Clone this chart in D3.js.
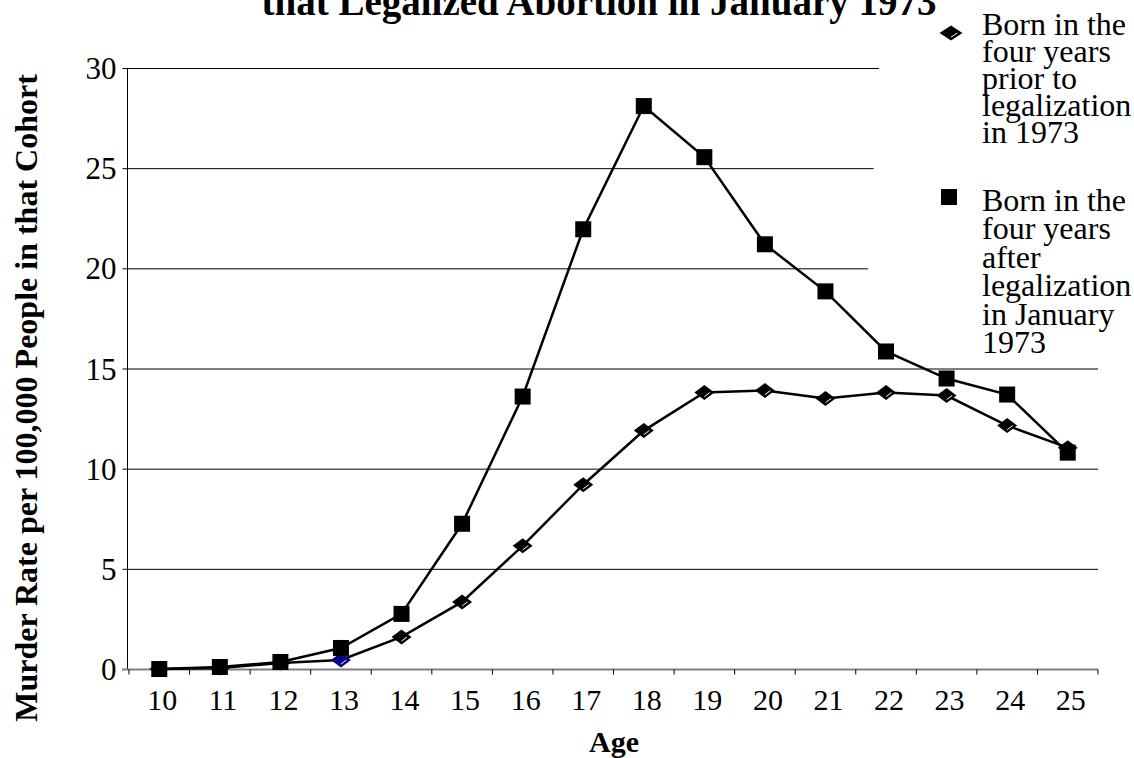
<!DOCTYPE html>
<html>
<head>
<meta charset="utf-8">
<script src="https://cdn.jsdelivr.net/npm/d3@7"></script>
<style>
  body { margin: 0; background: #fff; }
  svg { display: block; font-family: "Liberation Serif", "Times New Roman", serif; }
</style>
</head>
<body>
<svg id="chart" width="1134" height="758"></svg>
<script>
const ages = [10, 11, 12, 13, 14, 15, 16, 17, 18, 19, 20, 21, 22, 23, 24, 25];
const bornBefore = [0, 0.05, 0.3, 0.45, 1.6, 3.35, 6.15, 9.2, 11.9, 13.8, 13.9, 13.5, 13.8, 13.65, 12.15, 11.05];
const bornAfter = [0, 0.1, 0.35, 1.05, 2.75, 7.25, 13.6, 21.95, 28.1, 25.55, 21.2, 18.85, 15.85, 14.5, 13.7, 10.8];
const yTicks = [0, 5, 10, 15, 20, 25, 30];
const titleText = "that Legalized Abortion in January 1973";
const yLabel = "Murder Rate per 100,000 People in that Cohort";
const xLabel = "Age";
const legendBefore = ["Born in the", "four years", "prior to", "legalization", "in 1973"];
const legendAfter = ["Born in the", "four years", "after", "legalization", "in January", "1973"];

const svg = d3.select("#chart");
const x = d3.scaleBand().domain(ages).range([129, 1098]);
const y = d3.scaleLinear().domain([0, 30]).range([669, 68]);
const cx = a => x(a) + x.bandwidth() / 2;

// gridlines
svg.append("g").selectAll("line").data(yTicks.filter(t => t > 0)).join("line")
  .attr("x1", 127).attr("x2", 1098)
  .attr("y1", d => y(d) + 0.5).attr("y2", d => y(d) + 0.5)
  .attr("stroke", "#000").attr("stroke-width", 1);

// legend background (covers the top-right of the gridlines)
svg.append("path")
  .attr("d", "M880,0 L1134,0 L1134,362 L863,362 L879.5,60 Z")
  .attr("fill", "#fff");

// y axis
const yAxis = svg.append("g").attr("transform", "translate(127.5,0)")
  .call(d3.axisLeft(y).tickValues(yTicks).tickSize(5).tickPadding(6).tickFormat(d3.format("d")));
yAxis.select(".domain").attr("stroke", "#000").attr("d", `M0,${y(30)}V${y(0)}`);
yAxis.selectAll(".tick line").attr("stroke", "#000");
yAxis.selectAll("text").attr("font-size", 31).attr("font-family", "Liberation Serif").attr("fill", "#000").attr("dy", "0.34em");

// x axis
const xAxis = svg.append("g").attr("transform", `translate(0,${y(0) + 0.5})`)
  .call(d3.axisBottom(x).tickSize(0).tickPadding(19));
xAxis.select(".domain").remove();
xAxis.append("line").attr("x1", 122).attr("x2", 1098).attr("y1", 0).attr("y2", 0)
  .attr("stroke", "#808080").attr("stroke-width", 2);
xAxis.selectAll(".tick text").attr("font-size", 30).attr("font-family", "Liberation Serif")
  .attr("fill", "#000").attr("dx", 3);
const bounds = ages.map(a => x(a)).concat([x(ages[ages.length - 1]) + x.bandwidth()]);
xAxis.selectAll(".bt").data(bounds).join("line").attr("class", "bt")
  .attr("x1", d => d).attr("x2", d => d).attr("y1", 0).attr("y2", 5)
  .attr("stroke", "#000").attr("stroke-width", 1);

// lines
const line = d3.line().x(d => cx(d.a)).y(d => y(d.v));
const dBefore = ages.map((a, i) => ({ a, v: bornBefore[i] }));
const dAfter = ages.map((a, i) => ({ a, v: bornAfter[i] }));
svg.append("path").datum(dBefore).attr("d", line).attr("fill", "none").attr("stroke", "#000").attr("stroke-width", 2.5);
svg.append("path").datum(dAfter).attr("d", line).attr("fill", "none").attr("stroke", "#000").attr("stroke-width", 2.5);

// diamond markers
function diamond(g, px, py, color, w, h) {
  const grp = g.append("g").attr("transform", `translate(${px},${py})`);
  grp.append("path").attr("d", `M${-w},0 L0,${-h} L${w},0 L0,${h} Z`).attr("fill", color);
  grp.append("line").attr("x1", 0).attr("y1", h * 0.55).attr("x2", w * 0.55).attr("y2", 0)
    .attr("stroke", "#fff").attr("stroke-width", 1);
}
const mg = svg.append("g");
dBefore.forEach(d => diamond(mg, cx(d.a), y(d.v), d.a === 13 ? "#00008b" : "#000", 10, 7.5));

// square markers
svg.append("g").selectAll("rect").data(dAfter).join("rect")
  .attr("x", d => cx(d.a) - 8).attr("y", d => y(d.v) - 8)
  .attr("width", 16).attr("height", 16).attr("fill", "#000");

// title
svg.append("text").attr("x", 599).attr("y", 15).attr("text-anchor", "middle")
  .attr("font-size", 39).attr("font-weight", "bold").text(titleText);

// axis titles
svg.append("text").attr("transform", "translate(37,398) rotate(-90)").attr("text-anchor", "middle")
  .attr("font-size", 32).attr("font-weight", "bold").text(yLabel);
svg.append("text").attr("x", 614).attr("y", 752).attr("text-anchor", "middle")
  .attr("font-size", 30).attr("font-weight", "bold").text(xLabel);

// legend
diamond(svg, 951, 33, "#000", 11.5, 7.5);
svg.append("text").attr("font-size", 32).selectAll("tspan").data(legendBefore).join("tspan")
  .attr("x", 982).attr("y", (d, i) => 35 + i * 27).text(d => d);
svg.append("rect").attr("x", 941).attr("y", 189).attr("width", 16).attr("height", 16).attr("fill", "#000");
svg.append("text").attr("font-size", 32).selectAll("tspan").data(legendAfter).join("tspan")
  .attr("x", 982).attr("y", (d, i) => 211 + i * 28.4).text(d => d);
</script>
</body>
</html>
